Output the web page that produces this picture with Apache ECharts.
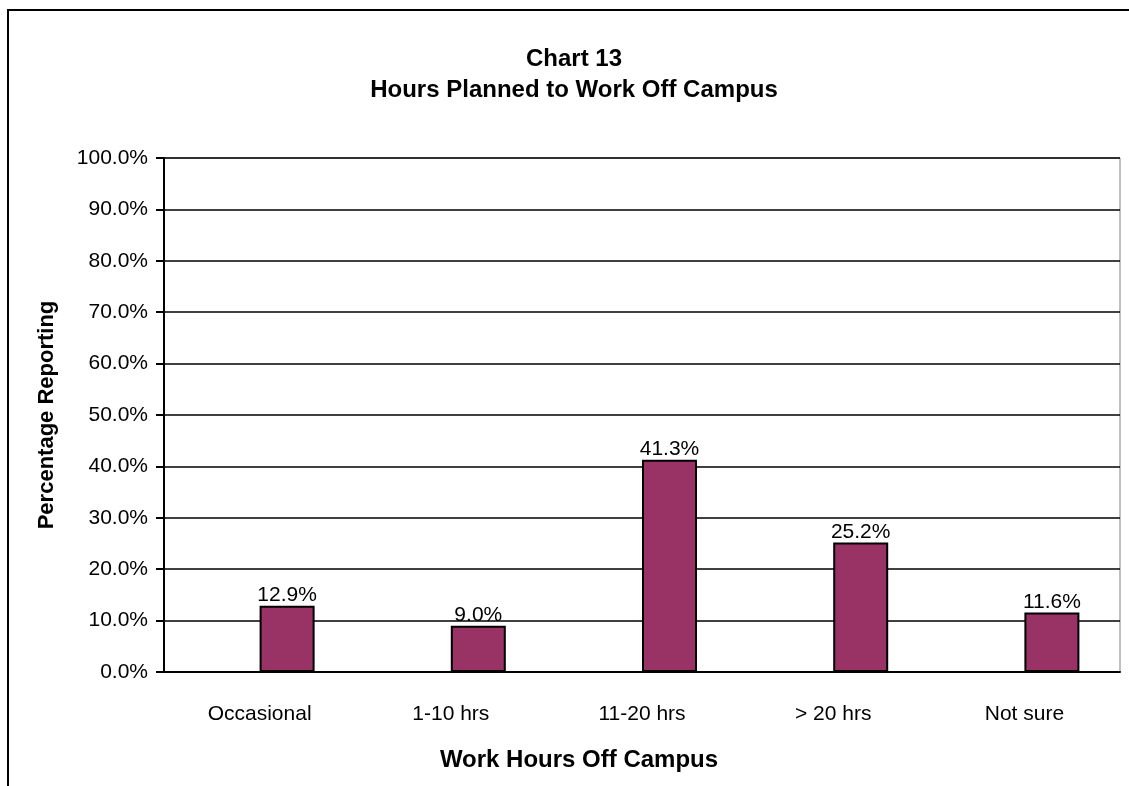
<!DOCTYPE html>
<html>
<head>
<meta charset="utf-8">
<script src="https://cdn.jsdelivr.net/npm/echarts@6/dist/echarts.min.js"></script>
<style>
  html, body { margin: 0; padding: 0; background: #fff; }
  #chart { width: 1129px; height: 786px; }
</style>
</head>
<body>
<div id="chart"></div>
<script>
const categories = ['Occasional', '1-10 hrs', '11-20 hrs', '> 20 hrs', 'Not sure']
const percentReporting = [12.9, 9.0, 41.3, 25.2, 11.6]
// Excel left an empty slot before each bar, so the bar sits right of the band centre
const emptySlot = [null, null, null, null, null]

const font = "'Liberation Sans', Arial, sans-serif"

const myChart = echarts.init(document.getElementById('chart'))
const option = {
  backgroundColor: '#fff',
  animation: false,
  title: {
    text: 'Chart 13\nHours Planned to Work Off Campus',
    left: 569,
    top: 39,
    textAlign: 'center',
    textStyle: {
      fontFamily: font,
      fontSize: 24,
      fontWeight: 'bold',
      color: '#000',
      lineHeight: 31
    }
  },
  graphic: [
    {
      // outer chart frame (runs off the right and bottom of the picture)
      type: 'rect',
      shape: { x: 8, y: 10, width: 1200, height: 900 },
      style: { fill: 'none', stroke: '#000', lineWidth: 2 },
      silent: true
    }
  ],
  grid: {
    left: 164,
    top: 158,
    right: 9,
    bottom: 114,
    show: true,
    borderColor: '#808080',
    borderWidth: 1
  },
  xAxis: {
    type: 'category',
    data: categories,
    name: 'Work Hours Off Campus',
    nameLocation: 'middle',
    nameGap: 76,
    nameTextStyle: {
      fontFamily: font,
      fontSize: 24,
      fontWeight: 'bold',
      color: '#000',
      padding: [0, 126, 0, 0]
    },
    axisLine: { lineStyle: { color: '#000', width: 2 } },
    axisTick: { inside: false, length: 8, lineStyle: { color: '#000', width: 2 } },
    axisLabel: {
      margin: 32,
      fontFamily: font,
      fontSize: 21,
      color: '#000'
    }
  },
  yAxis: {
    type: 'value',
    min: 0,
    max: 100,
    interval: 10,
    name: 'Percentage Reporting',
    nameLocation: 'middle',
    nameGap: 106,
    nameTextStyle: {
      fontFamily: font,
      fontSize: 22,
      fontWeight: 'bold',
      color: '#000'
    },
    axisLine: { show: true, lineStyle: { color: '#000', width: 2 } },
    axisTick: { show: true, inside: false, length: 8, lineStyle: { color: '#000', width: 2 } },
    splitLine: { lineStyle: { color: '#000', width: 1.5 } },
    axisLabel: {
      margin: 16,
      fontFamily: font,
      fontSize: 21,
      color: '#000',
      formatter: (v) => v.toFixed(1) + '%'
    }
  },
  series: [
    {
      name: 'blank',
      type: 'bar',
      data: emptySlot,
      barWidth: 55,
      barGap: '0%'
    },
    {
      name: 'Percentage Reporting',
      type: 'bar',
      data: percentReporting,
      barWidth: 55,
      barGap: '0%',
      itemStyle: {
        color: '#993366',
        borderColor: '#000',
        borderWidth: 2
      },
      label: {
        show: true,
        position: 'top',
        distance: 0,
        fontFamily: font,
        fontSize: 21,
        color: '#000',
        formatter: (p) => p.value.toFixed(1) + '%'
      }
    }
  ]
}

option && myChart.setOption(option)
</script>
</body>
</html>
